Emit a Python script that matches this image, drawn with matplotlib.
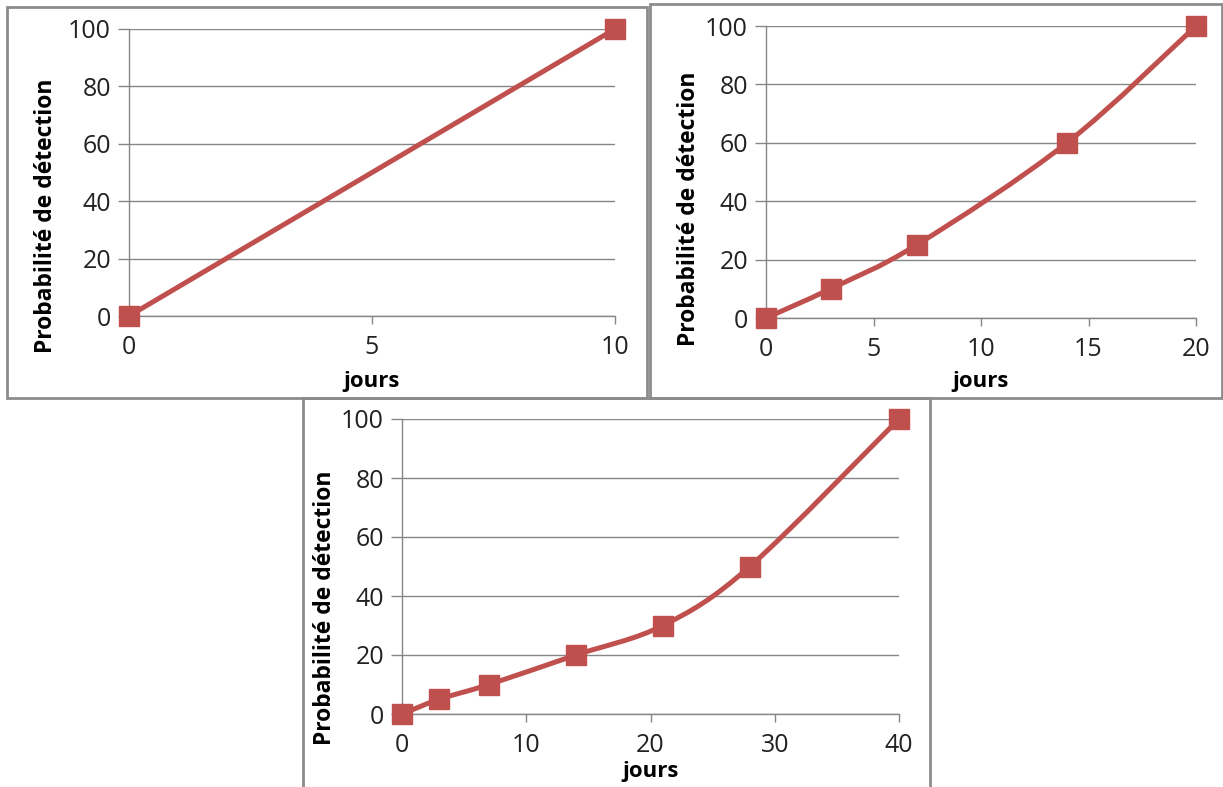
import matplotlib
matplotlib.use("Agg")
import matplotlib.pyplot as plt
from matplotlib.path import Path
from matplotlib.patches import PathPatch, Rectangle

plt.rcParams['font.family'] = ['Open Sans', 'DejaVu Sans']

# Data
x1 = [0, 10]
y1 = [0, 100]
x2 = [0, 3, 7, 14, 20]
y2 = [0, 10, 25, 60, 100]
x3 = [0, 3, 7, 14, 21, 28, 40]
y3 = [0, 5, 10, 20, 30, 50, 100]
xticks1 = [0, 5, 10]
xticks2 = [0, 5, 10, 15, 20]
xticks3 = [0, 10, 20, 30, 40]
yticks = [0, 20, 40, 60, 80, 100]
ylabel = "Probabilité de détection"
xlabel = "jours"

RED = "#C0504D"
GRID = "#868686"
W, H = 1223, 787

fig = plt.figure(figsize=(W / 100, H / 100), dpi=100)


def fx(px):
    return px / W


def fy(py):
    return 1 - py / H


def frame(l, t, r, b):
    fig.patches.append(Rectangle((fx(l), fy(b)), fx(r) - fx(l), fy(t) - fy(b),
                                 transform=fig.transFigure, fill=False,
                                 edgecolor="#8C8C8C", linewidth=2.0))


def smooth_path(xs, ys):
    pts = list(zip(xs, ys))
    verts = [pts[0]]
    codes = [Path.MOVETO]
    n = len(pts)
    for i in range(n - 1):
        p0 = pts[i - 1] if i > 0 else pts[i]
        p1 = pts[i]
        p2 = pts[i + 1]
        p3 = pts[i + 2] if i + 2 < n else pts[i + 1]
        c1 = (p1[0] + (p2[0] - p0[0]) / 6, p1[1] + (p2[1] - p0[1]) / 6)
        c2 = (p2[0] - (p3[0] - p1[0]) / 6, p2[1] - (p3[1] - p1[1]) / 6)
        verts += [c1, c2, p2]
        codes += [Path.CURVE4] * 3
    return Path(verts, codes)


def panel(l, t, r, b, xs, ys, xt, xmax, ylab_x, ylab_y, xlab_y):
    ax = fig.add_axes([fx(l), fy(b), fx(r) - fx(l), fy(t) - fy(b)])
    ax.set_xlim(0, xmax)
    ax.set_ylim(0, 100)
    ax.set_xticks(xt)
    ax.set_yticks(yticks)
    for s in ["top", "right"]:
        ax.spines[s].set_visible(False)
    for s in ["left", "bottom"]:
        ax.spines[s].set_color(GRID)
        ax.spines[s].set_linewidth(1.0)
    ax.grid(axis="y", color=GRID, linewidth=1.0)
    ax.tick_params(axis="y", length=8, color=GRID, width=1.0, labelsize=18,
                   pad=5, labelcolor="#222222")
    ax.tick_params(axis="x", length=6, color=GRID, width=1.0, labelsize=18,
                   pad=8, labelcolor="#222222")
    ax.set_axisbelow(True)
    patch = PathPatch(smooth_path(xs, ys), facecolor="none", edgecolor=RED,
                      linewidth=3.6, zorder=3, clip_on=False)
    ax.add_patch(patch)
    ax.plot(xs, ys, linestyle="none", marker="s", markersize=14,
            color=RED, zorder=4, clip_on=False)
    fig.text(fx(ylab_x), fy(ylab_y), ylabel, rotation=90,
             ha="center", va="center", fontsize=16.5, fontweight="bold")
    fig.text(fx((l + r) / 2), fy(xlab_y), xlabel, ha="center", va="center",
             fontsize=16, fontweight="bold")
    return ax


frame(7, 7, 647, 398)
frame(650, 4, 1222, 398)
frame(303, 398, 930, 790)

panel(129, 29, 615, 316, x1, y1, xticks1, 10, 46, 216, 381)
panel(766, 26, 1196, 318, x2, y2, xticks2, 20, 689, 209, 381)
panel(402, 419, 899, 714, x3, y3, xticks3, 40, 325, 608, 772)

fig.savefig("out.png", dpi=100)
